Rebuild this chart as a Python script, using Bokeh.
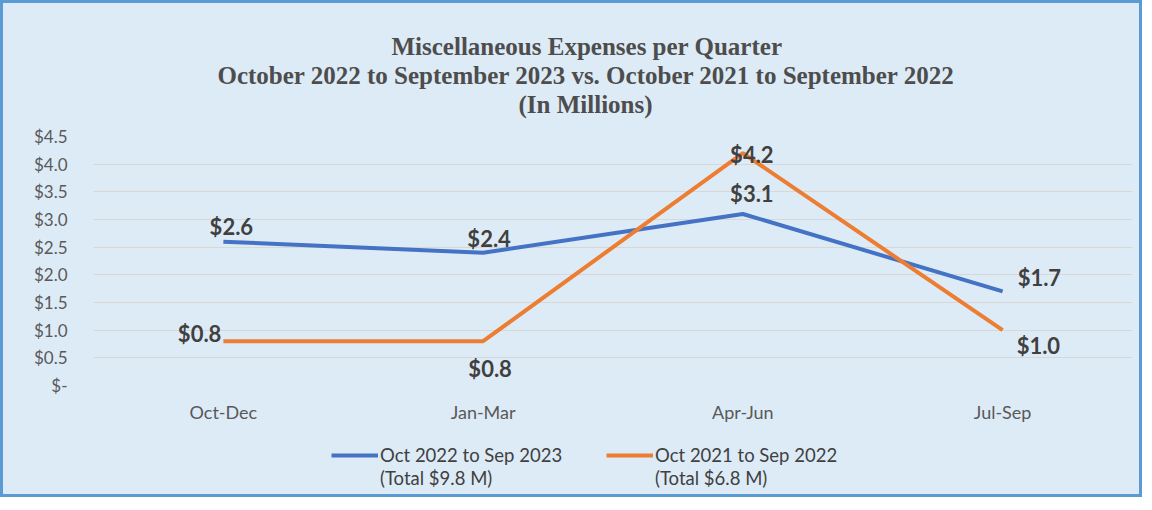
from bokeh.plotting import figure
from bokeh.layouts import column
from bokeh.models import (ColumnDataSource, FactorRange, Range1d, FixedTicker,
                          Legend, LegendItem, Title)
from bokeh.core.properties import value
from bokeh.embed import file_html
from bokeh.resources import INLINE

# ---------------- data ----------------
quarters = ["Oct-Dec", "Jan-Mar", "Apr-Jun", "Jul-Sep"]
fy2023 = [2.6, 2.4, 3.1, 1.7]   # Oct 2022 to Sep 2023
fy2022 = [0.8, 0.8, 4.2, 1.0]   # Oct 2021 to Sep 2022
series_names = ["Oct 2022 to Sep 2023", "Oct 2021 to Sep 2022"]
series_totals = ["(Total $9.8 M)", "(Total $6.8 M)"]
y_ticks = [0, 0.5, 1.0, 1.5, 2.0, 2.5, 3.0, 3.5, 4.0, 4.5]
y_tick_labels = ["$-", "$0.5", "$1.0", "$1.5", "$2.0", "$2.5",
                 "$3.0", "$3.5", "$4.0", "$4.5"]
title_lines = ["Miscellaneous Expenses per Quarter",
               "October 2022 to September 2023 vs. October 2021 to September 2022",
               "(In Millions)"]

# ---------------- styles ----------------
BG = "#DDEBF7"
BLUE = "#4472C4"
ORANGE = "#ED7D31"
TXT = "#595959"
LBL = "#404040"
FW, FH = 1039, 249
ML, MR, MT, MB = 90, 7, 133, 40
W = ML + FW + MR
LH = 69                      # height of the legend strip
title_offsets = [298, 124, 425]

# data-label placement (screen px offsets, align) per point
blue_dx = [8, 6, 9, 15]
blue_dy = [-15, -14, -20, -14]
blue_align = ["center", "center", "center", "left"]
orange_dx = [-2, 7, 9, 14]
orange_dy = [-8, 27, 1, 15]
orange_align = ["right", "center", "center", "left"]

p = figure(x_range=FactorRange(*quarters), y_range=Range1d(0, 4.5),
           frame_width=FW, frame_height=FH,
           output_backend="svg", toolbar_location=None,
           background_fill_color=BG, border_fill_color=BG,
           min_border_left=ML, min_border_right=MR,
           min_border_top=MT, min_border_bottom=MB)
p.outline_line_color = None

def style_title(t, off):
    t.text_font = "Liberation Serif"
    t.text_font_style = "bold"
    t.text_font_size = "25px"
    t.text_color = "#4d4d4d"
    t.align = "left"
    t.offset = off
    t.standoff = 0

p.title.text = title_lines[0]
style_title(p.title, title_offsets[0])
spacer = Title(text=" ", text_font_size="15px", standoff=0)
t3 = Title(text=title_lines[2])
style_title(t3, title_offsets[2])
t2 = Title(text=title_lines[1])
style_title(t2, title_offsets[1])
p.add_layout(spacer, "above")
p.add_layout(t3, "above")
p.add_layout(t2, "above")

# lines
src_b = ColumnDataSource(dict(x=quarters, y=fy2023,
                              t=["$%.1f" % v for v in fy2023],
                              dx=blue_dx, dy=blue_dy, al=blue_align))
src_o = ColumnDataSource(dict(x=quarters, y=fy2022,
                              t=["$%.1f" % v for v in fy2022],
                              dx=orange_dx, dy=orange_dy, al=orange_align))
p.line("x", "y", source=src_b, line_color=BLUE, line_width=4)
p.line("x", "y", source=src_o, line_color=ORANGE, line_width=4)

for src in (src_b, src_o):
    p.text("x", "y", text="t", source=src, x_offset="dx", y_offset="dy",
           text_align="al", text_baseline="middle",
           text_font=value("Lato"), text_font_style="bold",
           text_font_size="22px", text_color=LBL)

# axes
p.yaxis.ticker = FixedTicker(ticks=y_ticks)
p.yaxis.major_label_overrides = {t: l for t, l in zip(y_ticks, y_tick_labels)}
for ax in (p.xaxis, p.yaxis):
    ax.axis_line_color = None
    ax.major_tick_line_color = None
    ax.minor_tick_line_color = None
    ax.major_label_text_font = "Lato"
    ax.major_label_text_color = TXT
p.yaxis.major_label_text_font_size = "17px"
p.xaxis.major_label_text_font_size = "18px"
p.yaxis.major_label_standoff = 20
p.xaxis.major_label_standoff = 9

p.xgrid.grid_line_color = None
p.ygrid.grid_line_color = "#D9D6D4"
p.ygrid.grid_line_width = 1

# ---------------- legend strip ----------------
pl = figure(x_range=p.x_range, y_range=Range1d(10, 11), width=W, height=LH,
            output_backend="svg", toolbar_location=None, min_border=0,
            x_axis_location=None, y_axis_location=None,
            background_fill_color=BG, border_fill_color=BG)
pl.outline_line_color = None
pl.grid.visible = False
lb = pl.line(quarters, fy2023, line_color=BLUE, line_width=4)
lo = pl.line(quarters, fy2022, line_color=ORANGE, line_width=4)
lb2 = pl.line(quarters, fy2023, line_color=BLUE, line_alpha=0)
lo2 = pl.line(quarters, fy2022, line_color=ORANGE, line_alpha=0)

legend = Legend(items=[LegendItem(label=series_names[0], renderers=[lb]),
                       LegendItem(label=series_names[1], renderers=[lo]),
                       LegendItem(label=series_totals[0], renderers=[lb2]),
                       LegendItem(label=series_totals[1], renderers=[lo2])],
                orientation="horizontal", ncols=2, location=(238, 5),
                background_fill_alpha=0, border_line_color=None,
                padding=0, margin=0,
                label_text_font="Lato", label_text_font_size="18.5px",
                label_text_color=LBL, glyph_width=47, glyph_height=20,
                label_standoff=2, label_width=225, spacing=1)
pl.add_layout(legend)

layout = column(p, pl, spacing=0,
                styles={"border": "3px solid #5B9BD5",
                        "background-color": BG})

open("out.html", "w").write(file_html(layout, INLINE))
